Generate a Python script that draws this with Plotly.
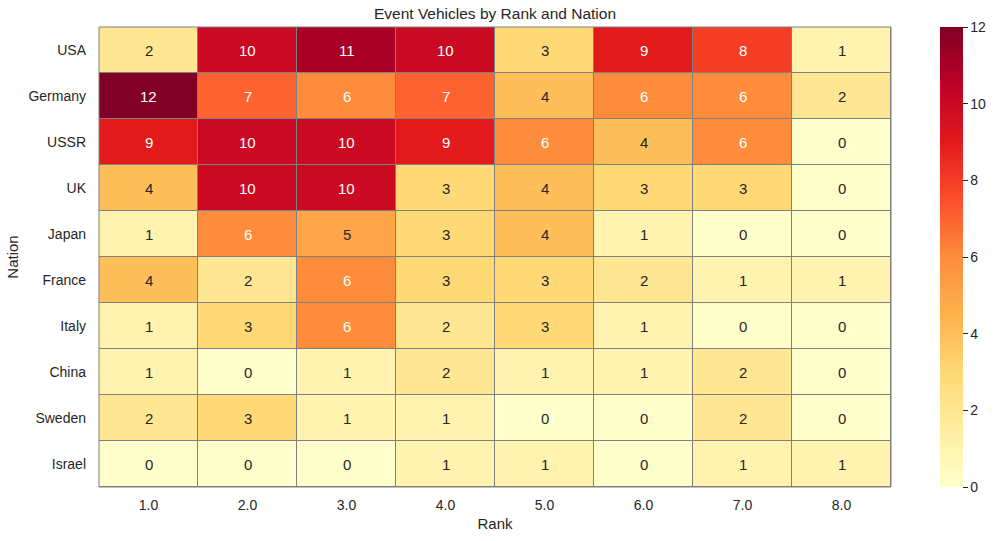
import plotly.graph_objects as go

ranks = ["1.0", "2.0", "3.0", "4.0", "5.0", "6.0", "7.0", "8.0"]
nations = ["USA", "Germany", "USSR", "UK", "Japan", "France", "Italy", "China", "Sweden", "Israel"]
counts = [
    [2, 10, 11, 10, 3, 9, 8, 1],
    [12, 7, 6, 7, 4, 6, 6, 2],
    [9, 10, 10, 9, 6, 4, 6, 0],
    [4, 10, 10, 3, 4, 3, 3, 0],
    [1, 6, 5, 3, 4, 1, 0, 0],
    [4, 2, 6, 3, 3, 2, 1, 1],
    [1, 3, 6, 2, 3, 1, 0, 0],
    [1, 0, 1, 2, 1, 1, 2, 0],
    [2, 3, 1, 1, 0, 0, 2, 0],
    [0, 0, 0, 1, 1, 0, 1, 1],
]

ylorrd = ["#ffffcc", "#ffeda0", "#fed976", "#feb24c", "#fd8d3c",
          "#fc4e2a", "#e31a1c", "#bd0026", "#800026"]
colorscale = [[i / (len(ylorrd) - 1), c] for i, c in enumerate(ylorrd)]

FONT = "Liberation Sans, Arial, sans-serif"
TXT = "#262626"

fig = go.Figure(go.Heatmap(
    z=counts, x=ranks, y=nations,
    colorscale=colorscale, zmin=0, zmax=12,
    xgap=1, ygap=1,
    colorbar=dict(
        x=1.062, xanchor="left", xpad=0, y=0.5, yanchor="middle", ypad=0,
        len=1.0, lenmode="fraction",
        thickness=23, outlinewidth=0,
        tickmode="array", tickvals=[0, 2, 4, 6, 8, 10, 12],
        ticks="outside", ticklen=5, tickwidth=1, tickcolor=TXT,
        tickfont=dict(family=FONT, size=14, color=TXT),
    ),
    hoverongaps=False,
))

for i, n in enumerate(nations):
    for j, r in enumerate(ranks):
        v = counts[i][j]
        fig.add_annotation(
            x=j, y=i, text=str(v), showarrow=False,
            font=dict(family=FONT, size=15, color="white" if v >= 6 else TXT),
        )

fig.add_shape(type="rect", xref="paper", yref="paper", x0=0, y0=0, x1=1, y1=1,
              line=dict(color="#808080", width=1), layer="above")

fig.update_layout(
    width=1000, height=541,
    margin=dict(l=99, r=109, t=27, b=54, autoexpand=False),
    paper_bgcolor="white", plot_bgcolor="#808080",
    title=dict(text="Event Vehicles by Rank and Nation", x=0.5, xanchor="center",
               xref="paper", y=1 - 14 / 541, yanchor="middle",
               font=dict(family=FONT, size=15.5, color=TXT)),
    font=dict(family=FONT, color=TXT),
    xaxis=dict(type="category", title=dict(text="Rank", font=dict(size=15, color=TXT), standoff=6),
               tickfont=dict(size=14, color=TXT), showgrid=False, zeroline=False,
               ticks="", ticklabelstandoff=8),
    yaxis=dict(type="category", title=dict(text="Nation", font=dict(size=15, color=TXT), standoff=6),
               tickfont=dict(size=14, color=TXT), autorange="reversed",
               showgrid=False, zeroline=False, ticks="", ticklabelstandoff=12),
)

fig.write_html("out.html", config={"displayModeBar": False},
               post_script="document.body.style.margin='0';document.body.style.overflow='hidden';")
